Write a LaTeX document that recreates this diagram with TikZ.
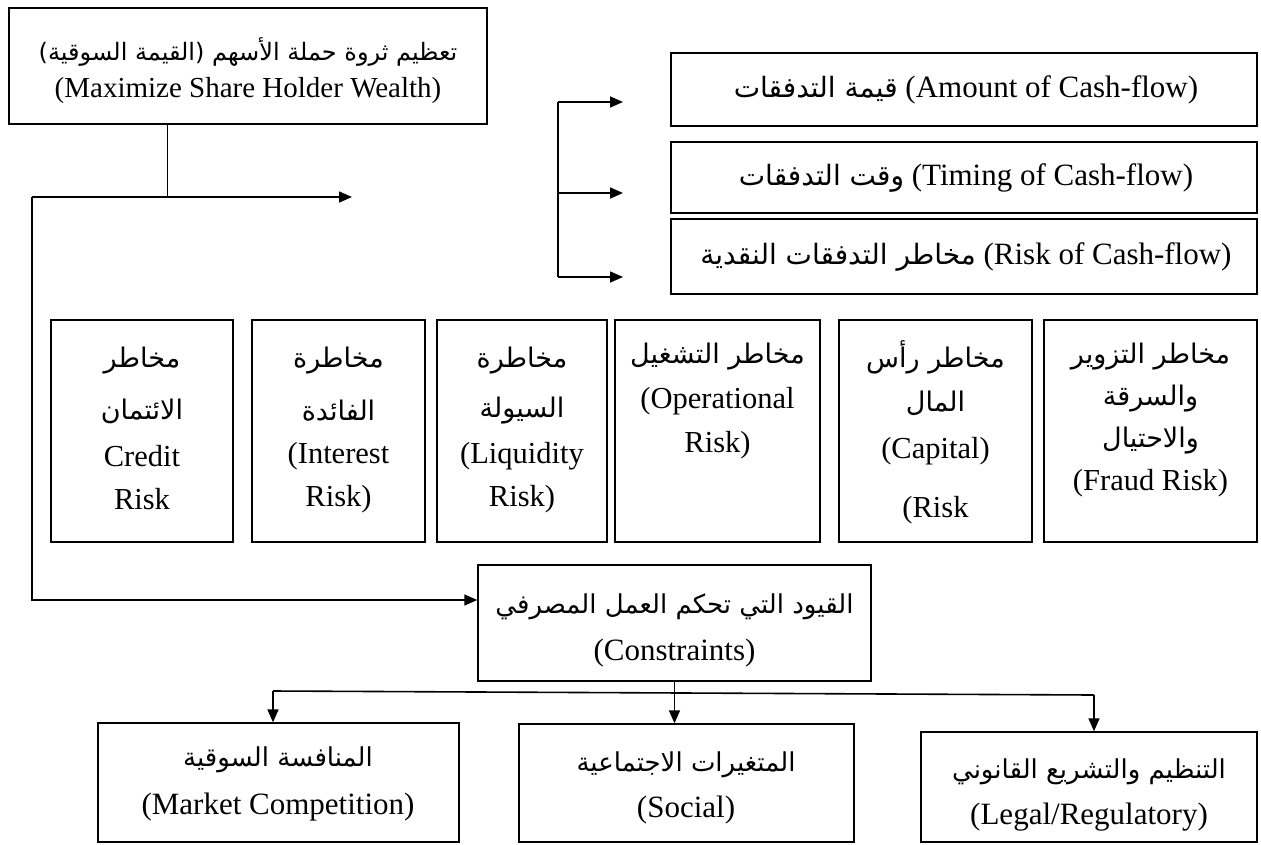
\documentclass[tikz,border=0pt]{standalone}
\usepackage{fontspec}
\setmainfont{Liberation Serif}
\newfontfamily\arabicfont[Script=Arabic]{DejaVu Sans}
\TeXXeTstate=1
\usetikzlibrary{arrows.meta}
\newcommand\ar[2][26]{{\fontsize{#1}{#1}\arabicfont\beginR #2\endR}}
\begin{document}
\begin{tikzpicture}[x=1pt,y=-1pt,
  box/.style={draw, line width=1.4pt, inner sep=0pt},
  conn/.style={line width=1.6pt},
  thin/.style={line width=0.9pt},
  arr/.style={conn, -{Triangle[length=13pt,width=11pt]}},
  en/.style={font=\fontsize{29}{34}\selectfont, inner sep=0pt},
  enr/.style={font=\fontsize{30.5}{35}\selectfont, inner sep=0pt},
  enl/.style={font=\fontsize{31}{36}\selectfont, inner sep=0pt},
]
\useasboundingbox (0,0) rectangle (1261,844);

% top-left box
\node[box, minimum width=478pt, minimum height=116pt] (tl) at (248,66) {};
\node[en] (tla) at (248,52) {\ar[24]{تعظيم ثروة حملة الأسهم (القيمة السوقية)}};
\node[en] (tle) at (248,91) {(Maximize Share Holder Wealth)};

% top-right boxes
\node[box, minimum width=586pt, minimum height=73pt] (cf1) at (964,89.5) {};
\node[box, minimum width=586pt, minimum height=71pt] (cf2) at (964,177.5) {};
\node[box, minimum width=586pt, minimum height=75pt] (cf3) at (964,256.5) {};
\node[enl] (cf1t) at (966,90) {\ar[28]{قيمة التدفقات} (Amount of Cash-flow)};
\node[enl] (cf2t) at (966,178) {\ar[28]{وقت التدفقات} (Timing of Cash-flow)};
\node[enl] (cf3t) at (966,257) {\ar[28]{مخاطر التدفقات النقدية} (Risk of Cash-flow)};

% risk boxes
\node[box, minimum width=182pt, minimum height=222pt] (r1) at (142,431) {};
\node[box, minimum width=173pt, minimum height=222pt] (r2) at (338.5,431) {};
\node[box, minimum width=170pt, minimum height=222pt] (r3) at (522,431) {};
\node[box, minimum width=205pt, minimum height=222pt] (r4) at (717.5,431) {};
\node[box, minimum width=193pt, minimum height=222pt] (r5) at (935.5,431) {};
\node[box, minimum width=213pt, minimum height=222pt] (r6) at (1150.5,431) {};

\node[enr] (r1a) at (142,361) {\ar[27]{مخاطر}};
\node[enr] (r1b) at (142,411) {\ar[27]{الائتمان}};
\node[enr] (r1c) at (142,456) {Credit};
\node[enr] (r1d) at (142,499) {Risk};

\node[enr] (r2a) at (338.5,361) {\ar[27]{مخاطرة}};
\node[enr] (r2b) at (338.5,411) {\ar[27]{الفائدة}};
\node[enr] (r2c) at (338.5,456) {(Interest};
\node[enr] (r2d) at (338.5,499) {Risk)};

\node[enr] (r3a) at (522,361) {\ar[27]{مخاطرة}};
\node[enr] (r3b) at (522,411) {\ar[27]{السيولة}};
\node[enr] (r3c) at (522,456) {(Liquidity};
\node[enr] (r3d) at (522,499) {Risk)};

\node[enr] (r4a) at (717.5,357) {\ar[27]{مخاطر التشغيل}};
\node[enr] (r4b) at (717.5,401) {(Operational};
\node[enr] (r4c) at (717.5,445) {Risk)};

\node[enr] (r5a) at (935.5,357) {\ar[27]{مخاطر رأس}};
\node[enr] (r5b) at (935.5,403) {\ar[27]{المال}};
\node[enr] (r5c) at (935.5,451) {(Capital)};
\node[enr] (r5d) at (935.5,510) {(Risk};

\node[enr] (r6a) at (1150.5,357) {\ar[27]{مخاطر التزوير}};
\node[enr] (r6b) at (1150.5,399) {\ar[27]{والسرقة}};
\node[enr] (r6c) at (1150.5,441) {\ar[27]{والاحتيال}};
\node[enr] (r6d) at (1150.5,483) {(Fraud Risk)};

% constraints
\node[box, minimum width=393pt, minimum height=116pt] (cons) at (674.5,623) {};
\node[en] (consa) at (674.5,607) {\ar{القيود التي تحكم العمل المصرفي}};
\node[enl] (conse) at (674.5,653) {(Constraints)};

% bottom boxes
\node[box, minimum width=361pt, minimum height=119pt] (mkt) at (278.5,782.5) {};
\node[box, minimum width=335pt, minimum height=118pt] (soc) at (686.5,783) {};
\node[box, minimum width=336pt, minimum height=110pt] (leg) at (1089,787) {};
\node[en] (mkta) at (278,760) {\ar{المنافسة السوقية}};
\node[enl] (mkte) at (278,807) {(Market Competition)};
\node[en] (soca) at (686,765) {\ar{المتغيرات الاجتماعية}};
\node[enl] (soce) at (686,810) {(Social)};
\node[en] (lega) at (1089,772) {\ar{التنظيم والتشريع القانوني}};
\node[enl] (lege) at (1089,817) {(Legal/Regulatory)};

% connectors
\coordinate (j1) at (167,197);
\coordinate (c0) at (32,197);
\coordinate (a0) at (352,197);
\coordinate (c1) at (32,600);
\draw[thin] (tl.south -| j1) -- (j1);
\draw[arr] (c0) -- (a0);
\draw[arr] (c0) -- (c1) -- (c1 -| cons.west);

\coordinate (b1) at (558,102);
\coordinate (b2) at (558,193);
\coordinate (b3) at (558,277);
\coordinate (t1) at (623,102);
\coordinate (t2) at (623,193);
\coordinate (t3) at (623,277);
\draw[conn] (b1) -- (b3);
\draw[arr] (b1) -- (t1);
\draw[arr] (b2) -- (t2);
\draw[arr] (b3) -- (t3);

\coordinate (dl) at (273,691);
\coordinate (dr) at (1094,695);
\draw[conn] (dl) -- (dr);
\draw[arr] (cons.south) -- (soc.north -| cons.south);
\draw[arr] (dl) -- (mkt.north -| dl);
\draw[arr] (dr) -- (leg.north -| dr);
\end{tikzpicture}
\end{document}
